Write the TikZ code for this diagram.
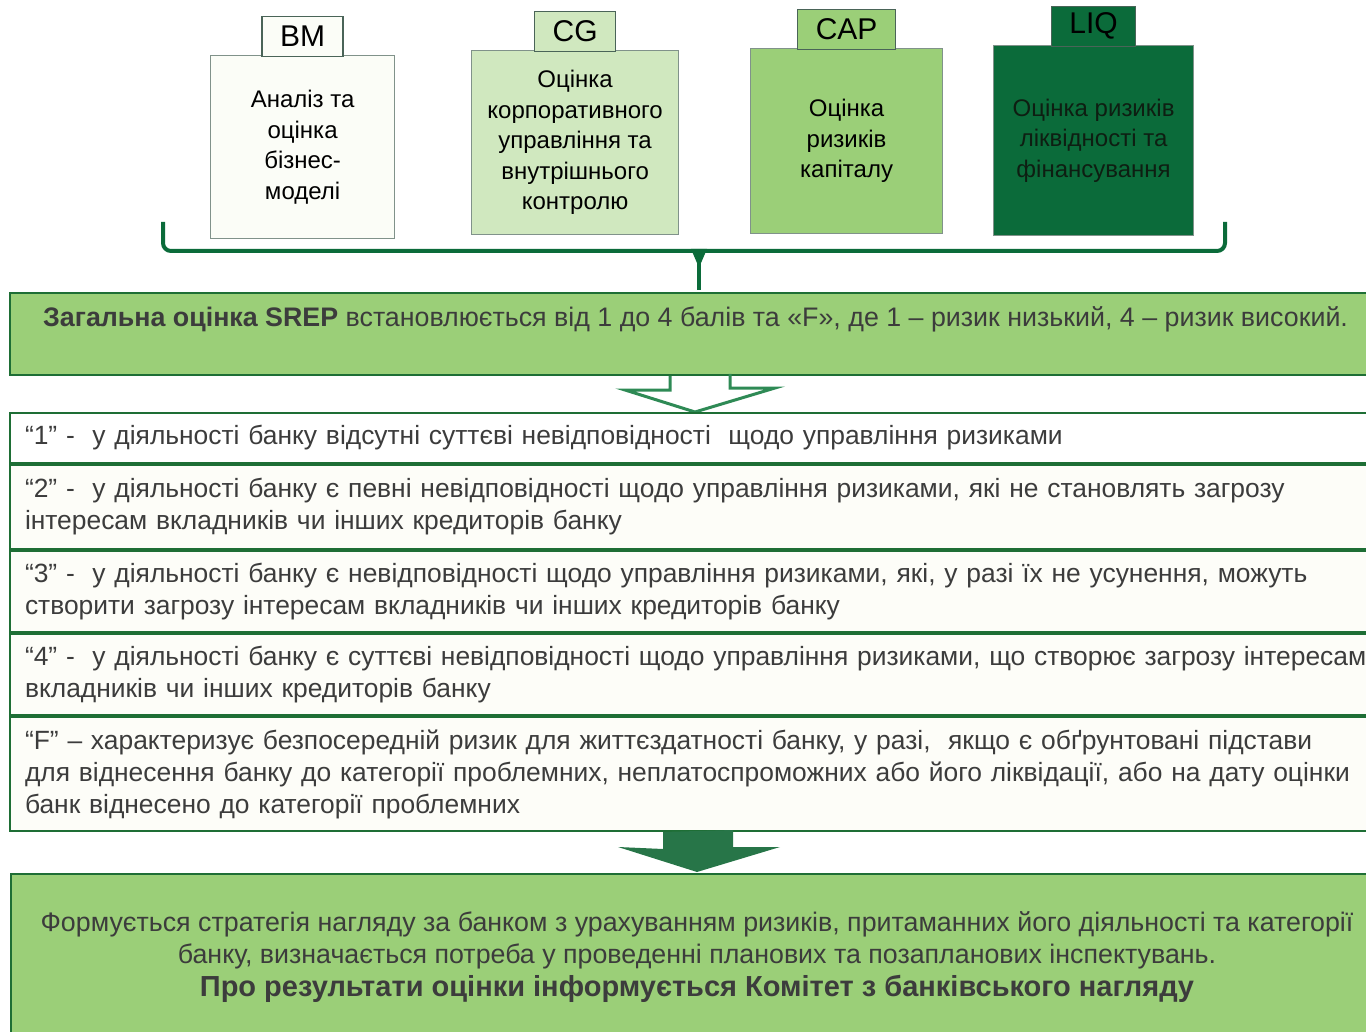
\documentclass[tikz,border=0pt]{standalone}
\usepackage{fontspec}
\setmainfont{Liberation Sans}
\usetikzlibrary{calc}
\definecolor{darkGreen}{HTML}{0B6B3A}
\definecolor{borderGreen}{HTML}{1E6E35}
\definecolor{arrowGreen}{HTML}{2E8A55}
\definecolor{midGreen}{HTML}{9BCF78}
\definecolor{lightGreen}{HTML}{D0E8BF}
\definecolor{paleFill}{HTML}{FBFDF7}
\definecolor{rowCream}{HTML}{FDFDF8}
\definecolor{tagGray}{HTML}{4A6458}
\definecolor{textGray}{HTML}{3C3C3C}
\definecolor{liqText}{HTML}{0E1E12}
\newcommand{\riskBlock}[8]{%%
  %% #1 name, #2 left, #3 top, #4 width, #5 height, #6 fill, #7 tag, #8 text
  \node[blockStyle,fill=#6,minimum width=#4,minimum height=#5] (#1) at (#2,#3) {#8};
  \node[tagStyle,fill=#6] (#1Tag) at (#1.north) [anchor=south,yshift=-2pt] {#7};
}
\begin{document}
\begin{tikzpicture}[x=1pt,y=-1pt,%%
  tagStyle/.style={draw=tagGray,line width=1.4pt,minimum height=40pt,inner xsep=18pt,inner ysep=0pt,font=\fontsize{30}{32}\selectfont},%%
  blockStyle/.style={draw=tagGray!70,line width=1.2pt,anchor=north west,align=center,inner sep=0pt,font=\fontsize{24}{30.5}\selectfont},%%
  rowStyle/.style={draw=borderGreen,line width=2pt,fill=rowCream,anchor=north west,text width=1400pt,inner xsep=15pt,inner ysep=0pt,align=left,text=textGray,font=\fontsize{26.4}{32}\selectfont},%%
  wideStyle/.style={draw=borderGreen,line width=2pt,fill=midGreen,anchor=north west,minimum width=1362pt,inner sep=0pt},%%
  braceStyle/.style={draw=darkGreen,line width=4pt,rounded corners=8pt}%%
]
%%
\useasboundingbox (0,0) rectangle (1366,1032);
%%
%% The four SREP elements.
\riskBlock{bm}{210}{55}{184pt}{183pt}{paleFill}{BM}{Аналіз та\\оцінка\\бізнес-\\моделі}
\riskBlock{cg}{471}{50}{207pt}{184pt}{lightGreen}{CG}{Оцінка\\корпоративного\\управління та\\внутрішнього\\контролю}
\riskBlock{cap}{750}{48}{192pt}{185pt}{midGreen}{CAP}{Оцінка\\ризиків\\капіталу}
\riskBlock{liq}{993}{45}{200pt}{190pt}{darkGreen}{LIQ}{\textcolor{liqText}{Оцінка ризиків}\\\textcolor{liqText}{ліквідності та}\\\textcolor{liqText}{фінансування}}
%%
%% The brace that gathers them.
\coordinate (braceLeft) at (163,222);
\coordinate (braceRight) at (1225,222);
\coordinate (braceMid) at (699,251);
\draw[braceStyle] (braceLeft) |- (braceMid) -| (braceRight);
%%
%% Overall score.
\node[wideStyle,minimum height=82pt] (srep) at (9,292) {};
\node[anchor=west,inner sep=0pt,text=textGray,font=\fontsize{26.8}{32}\selectfont] (srepText) at (43,319) {\textbf{Загальна оцінка SREP} встановлюється від 1 до 4 балів та «F», де 1 – ризик низький, 4 – ризик високий.};
\draw[darkGreen,line width=4pt] (braceMid) -- ($(braceMid |- srep.north)+(0,-2)$);
\fill[darkGreen] ($(braceMid)+(-8,-2)$) -- ($(braceMid)+(8,-2)$) -- ($(braceMid)+(2,12)$) -- ($(braceMid)+(-2,12)$) -- cycle;
%%
%% Open arrow down to the score list.
\draw[arrowGreen,line width=3pt,line join=miter]
  ($(srep.south)+(-21,0)$) -- ++(0,14) -- ++(-45,0) -- (695,412) -- (775,388) -- ++(-45,0) -- ++(0,-14);
%%
%% The scores.
\node[rowStyle,fill=white,minimum height=50pt] (rowOne) at (9,412) {“1” -\ \ у діяльності банку відсутні суттєві невідповідності\ \ щодо управління ризиками};
\node[rowStyle,minimum height=84pt] (rowTwo) at (9,464) {“2” -\ \ у діяльності банку є певні невідповідності щодо управління ризиками, які не становлять загрозу\\інтересам вкладників чи інших кредиторів банку};
\node[rowStyle,minimum height=81pt] (rowThree) at (9,550) {“3” -\ \ у діяльності банку є невідповідності щодо управління ризиками, які, у разі їх не усунення, можуть\\створити загрозу інтересам вкладників чи інших кредиторів банку};
\node[rowStyle,minimum height=81pt] (rowFour) at (9,633) {“4” -\ \ у діяльності банку є суттєві невідповідності щодо управління ризиками, що створює загрозу інтересам\\вкладників чи інших кредиторів банку};
\node[rowStyle,minimum height=114pt] (rowF) at (9,716) {“F” – характеризує безпосередній ризик для життєздатності банку, у разі,\ \ якщо є обґрунтовані підстави\\для віднесення банку до категорії проблемних, неплатоспроможних або його ліквідації, або на дату оцінки\\банк віднесено до категорії проблемних};
%%
%% Solid arrow down to the outcome.
\fill[arrowGreen!85!black]
  (rowF.south -| 663,0) -- ++(0,17) -- (618,847) -- (697,872) -- (780,847) -- ++(-47,0) -- ++(0,-17) -- cycle;
%%
%% Outcome.
\node[wideStyle,minimum height=166pt] (strategy) at (10,873) {};
\node[align=center,text=textGray,font=\fontsize{26.8}{32.5}\selectfont] (strategyText) at (697,957) {Формується стратегія нагляду за банком з урахуванням ризиків, притаманних його діяльності та категорії\\банку, визначається потреба у проведенні планових та позапланових інспектувань.\\{\fontsize{29}{34}\selectfont\bfseries Про результати оцінки інформується Комітет з банківського нагляду}};
\end{tikzpicture}
\end{document}
